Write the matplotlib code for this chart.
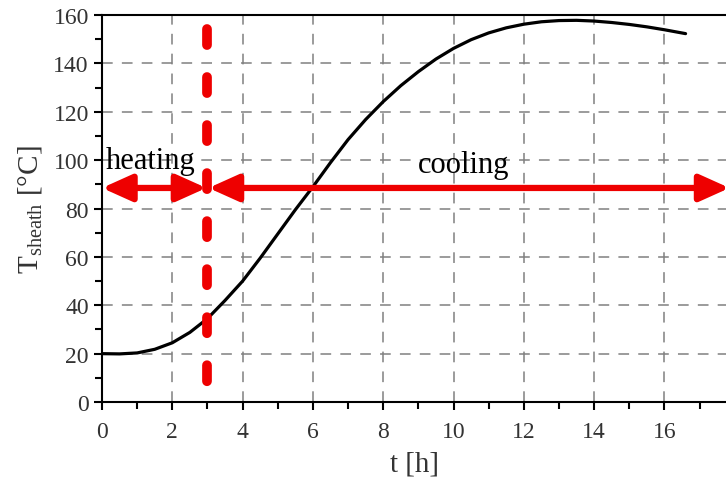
import numpy as np
import matplotlib
matplotlib.use("Agg")
import matplotlib.pyplot as plt
from matplotlib.ticker import MultipleLocator

# sheath temperature
t_h = [0, 0.5, 1, 1.5, 2, 2.5, 3, 3.5, 4, 4.5, 5, 5.5, 6, 6.5, 7, 7.5, 8, 8.5,
       9, 9.5, 10, 10.5, 11, 11.5, 12, 12.5, 13, 13.5, 14, 14.5, 15, 15.5, 16, 16.6]
T_sheath = [20, 19.9, 20.3, 21.8, 24.5, 28.8, 34.5, 42, 50, 59.5, 69.5, 79.5, 89, 99,
            108.5, 116.8, 124.2, 130.8, 136.6, 141.8, 146.2, 149.8, 152.6, 154.7, 156.2,
            157.2, 157.7, 157.8, 157.5, 156.9, 156.1, 155.1, 153.9, 152.3]

t_switch = 3.0
arrow_T = 88.5
x_max = 17.75
phase_labels = ["heating", "cooling"]
phase_label_x = [0.1, 10.3]
phase_label_T = [100, 98]

plt.rcParams['font.family'] = ['Liberation Serif', 'DejaVu Serif']
plt.rcParams['mathtext.fontset'] = 'custom'
plt.rcParams['mathtext.rm'] = 'Liberation Serif'

fig = plt.figure(figsize=(7.26, 4.85), dpi=100)
ax = fig.add_axes([0.1405, 0.169, 1.0 - 0.1405, 0.798])

ax.plot(t_h, T_sheath, color='black', lw=2.3, zorder=4,
        solid_capstyle='round', solid_joinstyle='round')

# phase boundary
ax.plot([t_switch, t_switch], [154.4, 6.2], color='#ee0000', lw=7,
        linestyle=(0, (1.65, 3.29)), dash_capstyle='round', zorder=5)

arr = dict(arrowstyle='<|-|>,head_length=1.0,head_width=0.45', color='#ee0000',
           lw=4.5, mutation_scale=18, shrinkA=0, shrinkB=0)
ax.annotate('', xy=(0, arrow_T), xytext=(t_switch - 0.03, arrow_T), arrowprops=arr,
            zorder=5, annotation_clip=False)
ax.annotate('', xy=(t_switch + 0.03, arrow_T), xytext=(x_max + 0.1, arrow_T), arrowprops=arr,
            zorder=5, annotation_clip=False)

ax.text(phase_label_x[0], phase_label_T[0], phase_labels[0], fontsize=22,
        ha='left', va='center', zorder=6)
ax.text(phase_label_x[1], phase_label_T[1], phase_labels[1], fontsize=22,
        ha='center', va='center', zorder=6)

ax.set_xlim(0, x_max)
ax.set_ylim(0, 160)
ax.xaxis.set_major_locator(MultipleLocator(2))
ax.xaxis.set_minor_locator(MultipleLocator(1))
ax.yaxis.set_major_locator(MultipleLocator(20))
ax.yaxis.set_minor_locator(MultipleLocator(10))

ax.grid(True, which='major', color='#808080', linestyle=(0, (7, 6)), lw=1.1)
ax.set_axisbelow(True)

for s in ['left', 'bottom', 'top']:
    ax.spines[s].set_linewidth(1.5)
ax.spines['right'].set_visible(False)
ax.tick_params(which='major', direction='out', length=6, width=1.5,
               labelsize=17, labelcolor='#333333', top=False, right=False)
ax.tick_params(which='minor', direction='out', length=5, width=1.5,
               top=False, right=False)
ax.tick_params(axis='x', which='major', pad=8)

ax.set_xlabel('t [h]', fontsize=21, color='#333333', labelpad=6)
ax.set_ylabel(r'T$_{\mathrm{sheath}}$ [°C]', fontsize=21, color='#333333', labelpad=6)

fig.savefig('out.png', dpi=100)
